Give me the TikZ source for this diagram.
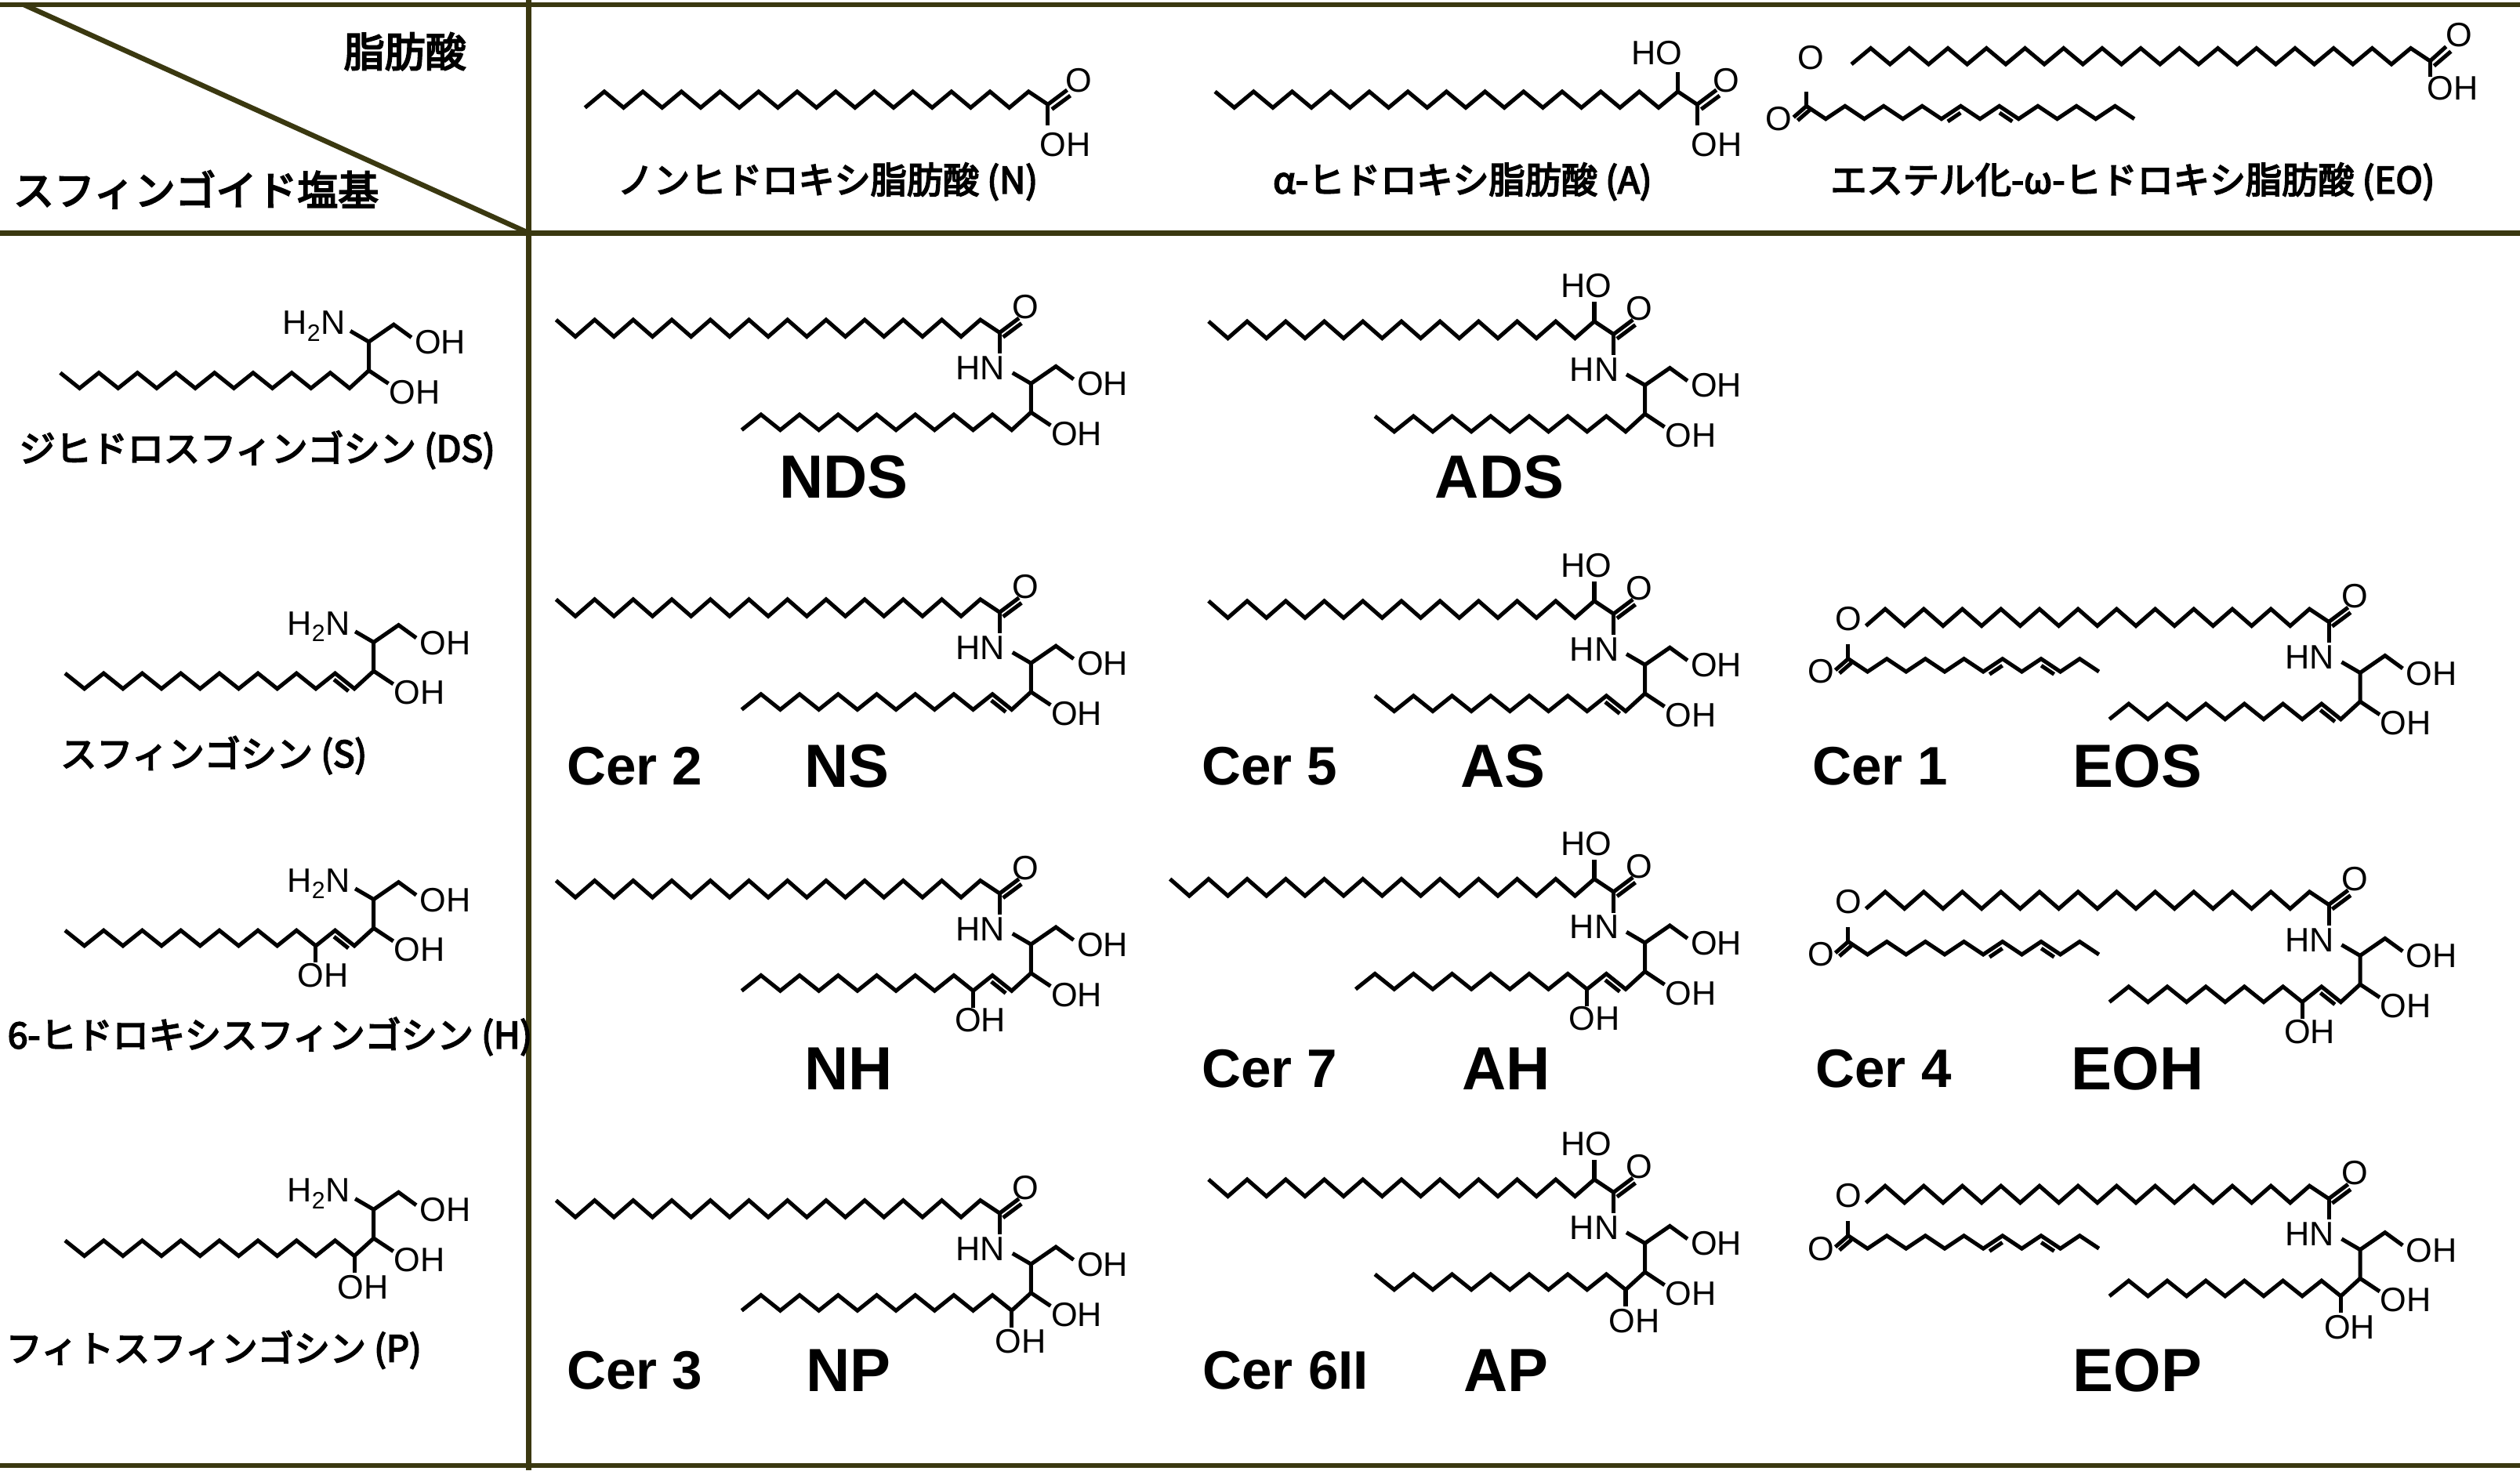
\documentclass[tikz,border=0pt]{standalone}
\usepackage{fontspec}
\setmainfont{Liberation Sans}
\newfontfamily\jp{Noto Sans CJK JP}[AutoFakeBold=4]
\begin{document}
\begin{tikzpicture}[x=0.05cm,y=-0.05cm,
  bond/.style={line width=3.5pt,line join=miter,line cap=butt},
  frame/.style={line width=4.5pt,draw={rgb,255:red,58;green,56;blue,16}},
  lab/.style={font=\fontsize{30}{32}\selectfont,inner sep=0pt},
  big/.style={font=\fontsize{54}{56}\selectfont\bfseries,inner sep=0pt},
  cer/.style={font=\fontsize{48}{50}\selectfont\bfseries,inner sep=0pt},
  jl/.style={font=\fontsize{32}{34}\selectfont\jp\bfseries,inner sep=0pt}]
\useasboundingbox (0,0) rectangle (1568,915);
% ---------- macros ----------
\newcommand\zigL[6]{\draw[bond] (#1,#2) \foreach \i in {1,...,#3}{ -- ({#1-\i*#4},{ifthenelse(isodd(\i),#5,#6)}) };}
\newcommand\zigR[6]{\draw[bond] (#1,#2) \foreach \i in {1,...,#3}{ -- ({#1+\i*#4},{ifthenelse(isodd(\i),#5,#6)}) };}
\newcommand\polar{%
  \draw[bond] (0,0)--(0,13);
  \draw[bond] (0,0)--(12,-9);
  \draw[bond] (2.1,2.8)--(13.6,-5.8);
  \node[lab] (o) at (16,-16) {O};
  \node[lab] (hn) at (-12,22) {HN};
  \sphpart}
\newcommand\sphpart{%
  \draw[bond] (8,25)--(19.5,31.7)--(35,21)--(46,29);
  \node[lab,anchor=west] (oh1) at (48,32) {OH};
  \draw[bond] (19.5,31.7)--(19.5,49.6)--(31.7,57.7);
  \node[lab,anchor=west] (oh3) at (32,63) {OH};}
\newcommand\sph[2]{% type n
  \zigL{19.5}{49.6}{#2}{12}{60.6}{51}
  \ifx#1S\draw[bond] (3.8,62.1)--(-5.2,54.9);\fi
  \ifx#1H\draw[bond] (3.8,62.1)--(-5.2,54.9);
     \draw[bond] (-16.5,60.6)--(-16.5,71); \node[lab] at (-12,79) {OH};\fi
  \ifx#1P\draw[bond] (7.5,60.6)--(7.5,71); \node[lab] at (13,80) {OH};\fi}
\newcommand\cerN[5]{%
  \begin{scope}[shift={(#1,#2)}]\polar\zigL{0}{0}{#3}{12}{-8}{2.5}\sph{#4}{#5}\end{scope}}
\newcommand\cerA[5]{%
  \begin{scope}[shift={(#1,#2)}]\polar\zigL{0}{0}{#3}{12}{-8}{2.5}
  \draw[bond] (-12,-8)--(-12,-20); \node[lab] at (-17,-30) {HO};\sph{#4}{#5}\end{scope}}
\newcommand\ester[3]{%
  \begin{scope}[shift={(#1,#2)}]
  \draw[bond] (0,0)--(0,-9);
  \draw[bond] (0,0)--(-8,7); \draw[bond] (2,2.5)--(-5.5,9);
  \node[lab] at (-17,8) {O};
  \zigR{0}{0}{#3}{12}{8}{0}
  \draw[bond] (87.9,9.6)--(95.9,4.2);
  \draw[bond] (120.1,4.2)--(128.1,9.6);
  \end{scope}}
\newcommand\cerEO[4]{%
  \begin{scope}[shift={(#1,#2)}]\polar\zigL{0}{0}{24}{12}{-8}{2.5}
  \node[lab] at (-299,-2) {O};\sph{#3}{#4}\end{scope}
  \pgfmathsetmacro\ex{#1-299}\pgfmathsetmacro\ey{#2+23}\ester{\ex}{\ey}{13}}
\newcommand\base[3]{%
  \begin{scope}[shift={(#1,#2)}]
  \node[lab,anchor=east] (h2n) at (5,22) {H\textsubscript{2}N};
  \sphpart\sph{#3}{16}\end{scope}}
% ---------- frame ----------
\draw[frame] (0,3)--(1568,3);
\draw[frame] (0,145)--(1568,145);
\draw[frame] (0,912)--(1568,912);
\draw[frame] (329,0)--(329,915);
\draw[frame] (15,3)--(329,145);
% ---------- header ----------
\node[jl,font=\fontsize{36}{38}\selectfont\jp\bfseries] (fa) at (252,32) {脂肪酸};
\node[jl,font=\fontsize{36}{38}\selectfont\jp\bfseries] (sb) at (122,118) {スフィンゴイド塩基};
\node[jl] (hN) at (515,113) {ノンヒドロキシ脂肪酸 (N)};
\node[jl] (hA) at (910,113) {α-ヒドロキシ脂肪酸 (A)};
\node[jl] (hE) at (1327,113) {エステル化-ω-ヒドロキシ脂肪酸 (EO)};
\zigL{652}{65}{24}{12}{57}{67}
\draw[bond] (652,65)--(664,56); \draw[bond] (654.5,68)--(666,59.5);
\node[lab] at (671,50) {O};
\draw[bond] (652,65)--(652,78); \node[lab] at (663,90) {OH};
\zigL{1056}{65}{25}{12}{57}{67}
\draw[bond] (1056,65)--(1068,56); \draw[bond] (1058.5,68)--(1070,59.5);
\node[lab] at (1074,50) {O};
\draw[bond] (1056,65)--(1056,78); \node[lab] at (1068,90) {OH};
\draw[bond] (1044,57)--(1044,45); \node[lab] at (1031,33) {HO};
\zigL{1512}{38}{30}{12}{30}{40}
\draw[bond] (1512,38)--(1522,29); \draw[bond] (1514.5,41)--(1525,32);
\node[lab] at (1530,22) {O};
\draw[bond] (1512,38)--(1512,48); \node[lab] at (1526,55) {OH};
\node[lab] at (1127,36) {O};
\ester{1124}{66}{17}
% ---------- row labels ----------
\node[jl] (rDS) at (160,280) {ジヒドロスフィンゴシン (DS)};
\node[jl] (rS) at (133,470) {スフィンゴシン (S)};
\node[jl] (rH) at (168,645) {6-ヒドロキシスフィンゴシン (H)};
\node[jl] (rP) at (133,840) {フィトスフィンゴシン (P)};
\base{210}{181}{D}
\base{213}{368}{S}
\base{213}{528}{H}
\base{213}{721}{P}
% ---------- ceramides ----------
\cerN{622}{207}{23}{D}{15}
\cerN{622}{381}{23}{S}{15}
\cerN{622}{556}{23}{H}{15}
\cerN{622}{755}{23}{P}{15}
\cerA{1004}{208}{21}{D}{14}
\cerA{1004}{382}{21}{S}{14}
\cerA{1004}{555}{23}{H}{15}
\cerA{1004}{742}{21}{P}{14}
\cerEO{1449}{387}{S}{13}
\cerEO{1449}{563}{H}{13}
\cerEO{1449}{746}{P}{13}
% ---------- names ----------
\node[big] (nds) at (525,297) {NDS};
\node[big] (ads) at (933,297) {ADS};
\node[cer] (c2) at (395,477) {Cer 2};
\node[big] (ns) at (527,477) {NS};
\node[cer] (c5) at (790,477) {Cer 5};
\node[big] (as) at (935,477) {AS};
\node[cer] (c1) at (1170,477) {Cer 1};
\node[big] (eos) at (1330,477) {EOS};
\node[big] (nh) at (528,665) {NH};
\node[cer] (c7) at (790,665) {Cer 7};
\node[big] (ah) at (937,665) {AH};
\node[cer] (c4) at (1172,665) {Cer 4};
\node[big] (eoh) at (1330,665) {EOH};
\node[cer] (c3) at (395,853) {Cer 3};
\node[big] (np) at (528,853) {NP};
\node[cer] (c6) at (800,853) {Cer 6II};
\node[big] (ap) at (937,853) {AP};
\node[big] (eop) at (1330,853) {EOP};
\end{tikzpicture}
\end{document}
